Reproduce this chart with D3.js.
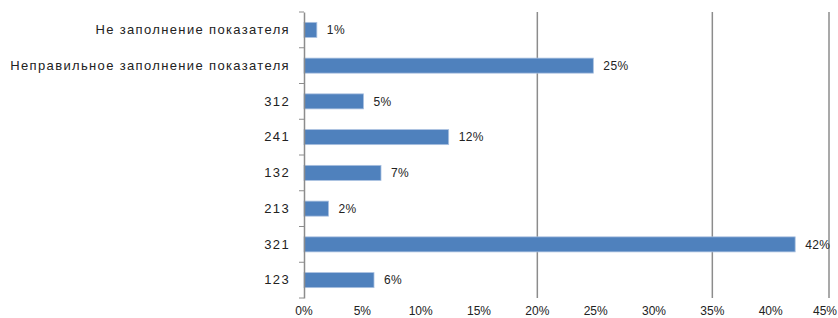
<!DOCTYPE html>
<html>
<head>
<meta charset="utf-8">
<script src="https://cdn.jsdelivr.net/npm/d3@7/dist/d3.min.js"></script>
<style>
  html, body { margin: 0; padding: 0; background: #fff; }
  svg { display: block; font-family: "Liberation Sans", Arial, sans-serif; }
</style>
</head>
<body>
<div id="chart"></div>
<script>
// categories, top to bottom
const categories = [
    'Не заполнение показателя',
    'Неправильное заполнение показателя',
    '312',
    '241',
    '132',
    '213',
    '321',
    '123'
];
// share of cases, percent
const values = [1.1, 24.8, 5.1, 12.4, 6.6, 2.1, 42.1, 6.0];
const xTicks = [0, 5, 10, 15, 20, 25, 30, 35, 40, 45];
// only these grid lines show in the picture
const gridTicks = [20, 35, 45];

const width = 838, height = 318;
const margin = { top: 12, right: 10, bottom: 20, left: 304 };

const svg = d3.select('#chart')
    .append('svg')
    .attr('width', width)
    .attr('height', height);

const x = d3.scaleLinear()
    .domain([0, 45])
    .range([margin.left, 829]);

const y = d3.scaleBand()
    .domain(categories)
    .range([margin.top, 298])
    .paddingInner(0.58)
    .paddingOuter(0.29);

// grid lines
svg.append('g')
    .selectAll('line')
    .data(gridTicks)
    .join('line')
    .attr('x1', d => x(d)).attr('x2', d => x(d))
    .attr('y1', margin.top).attr('y2', 298)
    .attr('stroke', '#8c8c8c')
    .attr('stroke-width', 1.5);

// bars
svg.append('g')
    .selectAll('rect')
    .data(values)
    .join('rect')
    .attr('x', x(0))
    .attr('y', (d, i) => y(categories[i]))
    .attr('width', d => x(d) - x(0))
    .attr('height', y.bandwidth())
    .attr('fill', '#4f81bd')
    .attr('stroke', '#a9c0e0')
    .attr('stroke-width', 0.8);

// value labels
svg.append('g')
    .selectAll('text')
    .data(values)
    .join('text')
    .attr('x', d => x(d) + 10)
    .attr('y', (d, i) => y(categories[i]) + y.bandwidth() / 2)
    .attr('dy', '0.35em')
    .attr('fill', '#222')
    .style('font-size', '12px')
    .style('letter-spacing', '0.4px')
    .text(d => Math.round(d) + '%');

// category axis
const yAxis = svg.append('g')
    .attr('transform', `translate(${x(0)},0)`)
    .call(d3.axisLeft(y).tickSize(0).tickPadding(14));
yAxis.select('.domain').attr('stroke', '#8c8c8c').attr('stroke-width', 1.5);
yAxis.selectAll('text')
    .attr('fill', '#222')
    .style('font-size', '13px')
    .style('letter-spacing', '1.35px');

// tick marks between categories
const step = y.step();
svg.append('g')
    .selectAll('line')
    .data(d3.range(categories.length + 1))
    .join('line')
    .attr('x1', x(0) - 5).attr('x2', x(0))
    .attr('y1', i => margin.top + i * step)
    .attr('y2', i => margin.top + i * step)
    .attr('stroke', '#8c8c8c');

// value axis labels
svg.append('g')
    .selectAll('text')
    .data(xTicks)
    .join('text')
    .attr('x', d => d === 45 ? width - 1 : x(d))
    .attr('y', 315)
    .attr('text-anchor', d => d === 45 ? 'end' : 'middle')
    .attr('fill', '#222')
    .style('font-size', '12px')
    .text(d => d + '%');
</script>
</body>
</html>
